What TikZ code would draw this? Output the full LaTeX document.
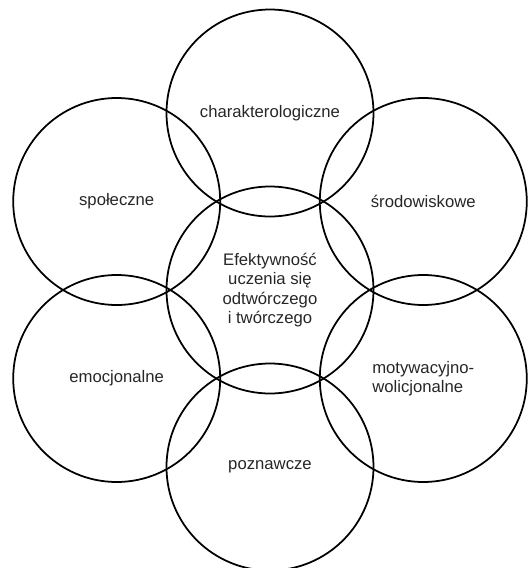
\documentclass[tikz,border=0pt]{standalone}
\usepackage{fontspec}
\setmainfont{Liberation Sans}
\usepackage{tikz}
\tikzstyle{ring}=[shape=circle, draw=black, line width=1pt, minimum size=4.14cm, inner sep=0pt, text=black!85, align=center, font=\fontsize{9.5}{11}\selectfont]
\tikzstyle{none}=[inner sep=0pt, text=black!85, font=\fontsize{9.5}{11}\selectfont]
\begin{document}
\begin{tikzpicture}
        \useasboundingbox (-5.4, -5.56) rectangle (5.16, 5.8);
        % central circle and the six around it
        \node [style=ring] (0) at (0, 0) {Efektywność\\uczenia się\\odtwórczego\\i twórczego};
        \node [style=ring] (1) at (90:3.54) {charakterologiczne};
        \node [style=ring] (2) at (30:3.54) {środowiskowe};
        \node [style=ring] (3) at (-30:3.54) {};
        \node [style=ring] (4) at (-90:3.54) {poznawcze};
        \node [style=ring] (5) at (-150:3.54) {emocjonalne};
        \node [style=ring] (6) at (150:3.54) {społeczne};
        \node [style=none, align=left] (7) at (3.center) {motywacyjno-\\wolicjonalne};
    \end{tikzpicture}
\end{document}
